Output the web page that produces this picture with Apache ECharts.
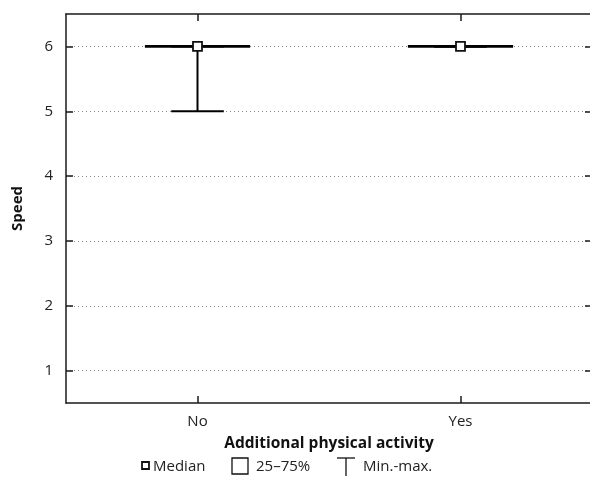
<!DOCTYPE html>
<html>
<head>
<meta charset="utf-8">
<script src="https://cdn.jsdelivr.net/npm/echarts@6/dist/echarts.min.js"></script>
<style>html,body{margin:0;padding:0;background:#fff}#c{width:590px;height:490px}</style>
</head>
<body>
<div id="c"></div>
<script>
const categories = ['No', 'Yes'];
const minValues = [5, 6];
const q1Values = [6, 6];
const medians = [6, 6];
const q3Values = [6, 6];
const maxValues = [6, 6];
const yTicks = [1, 2, 3, 4, 5, 6];
const legendLabels = ['Median', '25\u201375%', 'Min.-max.'];

const FONT = '"Open Sans", "Noto Sans", sans-serif';
const chart = echarts.init(document.getElementById('c'), null, {renderer: 'canvas'});

const axisLineStyle = {color: '#1a1a1a', width: 1.5};
const tickStyle = {color: '#1a1a1a', width: 1.5};
const yCommon = {
  type: 'value', min: 0.5, max: 6.5,
  axisLine: {show: true, lineStyle: axisLineStyle},
  axisTick: {show: true, inside: true, length: 7, lineStyle: tickStyle, customValues: yTicks},
};

const boxData = categories.map((c, i) => [i, minValues[i], q1Values[i], medians[i], q3Values[i], maxValues[i]]);

function renderBox(params, api) {
  const idx = api.value(0);
  const pMin = api.coord([idx, api.value(1)]);
  const pQ1 = api.coord([idx, api.value(2)]);
  const pQ3 = api.coord([idx, api.value(4)]);
  const pMax = api.coord([idx, api.value(5)]);
  const band = api.size([1, 0])[0];
  const half = band * 0.2;
  const capHalf = half / 2;
  const x = pQ1[0];
  const stroke = {stroke: '#000', lineWidth: 2, fill: null};
  return {
    type: 'group',
    children: [
      {type: 'line', shape: {x1: x, y1: pMin[1], x2: x, y2: pQ1[1]}, style: stroke},
      {type: 'line', shape: {x1: x, y1: pQ3[1], x2: x, y2: pMax[1]}, style: stroke},
      {type: 'line', shape: {x1: x - capHalf, y1: pMin[1], x2: x + capHalf, y2: pMin[1]}, style: stroke},
      {type: 'line', shape: {x1: x - capHalf, y1: pMax[1], x2: x + capHalf, y2: pMax[1]}, style: stroke},
      {type: 'rect', shape: {x: x - half, y: pQ3[1], width: half * 2, height: pQ1[1] - pQ3[1]},
       style: {stroke: '#000', lineWidth: 2.6, fill: 'rgba(0,0,0,0)'}}
    ]
  };
}

chart.setOption({
  animation: false,
  backgroundColor: '#fff',
  grid: {left: 66, top: 14, width: 526, height: 389, containLabel: false, outerBoundsMode: 'none'},
  xAxis: [
    {type: 'category', data: categories, position: 'bottom',
     axisLine: {show: true, onZero: false, lineStyle: axisLineStyle},
     axisTick: {show: true, inside: true, alignWithLabel: true, length: 7, lineStyle: tickStyle},
     axisLabel: {color: '#222', fontFamily: FONT, fontSize: 15, margin: 11},
     name: 'Additional physical activity', nameLocation: 'middle', nameGap: 33,
     nameTextStyle: {color: '#111', fontFamily: FONT, fontSize: 15.5, fontWeight: 'bold'}},
    {type: 'category', data: categories, position: 'top',
     axisLine: {show: true, onZero: false, lineStyle: axisLineStyle},
     axisTick: {show: true, inside: true, alignWithLabel: true, length: 7, lineStyle: tickStyle},
     axisLabel: {show: false}}
  ],
  yAxis: [
    Object.assign({}, yCommon, {position: 'left',
      axisLabel: {color: '#222', fontFamily: FONT, fontSize: 15, margin: 13, customValues: yTicks},
      splitLine: {show: true, lineStyle: {color: '#888', width: 1, type: [1, 3]}},
      name: 'Speed', nameLocation: 'middle', nameGap: 41,
      nameTextStyle: {color: '#111', fontFamily: FONT, fontSize: 15, fontWeight: 'bold'}}),
    Object.assign({}, yCommon, {position: 'right',
      axisLabel: {show: false}, splitLine: {show: false}})
  ],
  series: [
    {name: legendLabels[1], type: 'custom', xAxisIndex: 0, yAxisIndex: 0,
     data: boxData, renderItem: renderBox,
     encode: {x: 0, y: [1, 2, 3, 4, 5]}, z: 3},
    {name: legendLabels[0], type: 'scatter', xAxisIndex: 0, yAxisIndex: 0,
     data: categories.map((c, i) => [i, medians[i]]),
     symbol: 'rect', symbolSize: 9,
     itemStyle: {color: '#fff', borderColor: '#111', borderWidth: 1.8, opacity: 1},
     z: 5}
  ],
  graphic: [
    {type: 'rect', shape: {x: 142, y: 462, width: 7, height: 7}, style: {fill: '#fff', stroke: '#111', lineWidth: 1.8}},
    {type: 'text', x: 153, y: 467, style: {text: legendLabels[0], font: '15px ' + FONT, fill: '#222', verticalAlign: 'middle'}},
    {type: 'rect', shape: {x: 232, y: 458, width: 16, height: 16}, style: {fill: '#fff', stroke: '#111', lineWidth: 1.3}},
    {type: 'text', x: 256, y: 467, style: {text: legendLabels[1], font: '15px ' + FONT, fill: '#222', verticalAlign: 'middle'}},
    {type: 'line', shape: {x1: 337, y1: 458, x2: 355, y2: 458}, style: {stroke: '#111', lineWidth: 1.3}},
    {type: 'line', shape: {x1: 346, y1: 458, x2: 346, y2: 476}, style: {stroke: '#111', lineWidth: 1.3}},
    {type: 'text', x: 363, y: 467, style: {text: legendLabels[2], font: '15px ' + FONT, fill: '#222', verticalAlign: 'middle'}}
  ]
});
</script>
</body>
</html>
